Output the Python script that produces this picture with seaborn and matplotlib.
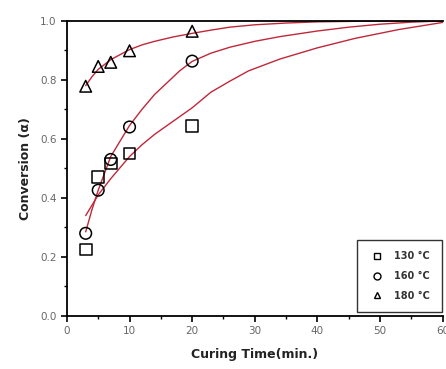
import matplotlib
matplotlib.use("Agg")
import matplotlib.pyplot as plt
import seaborn as sns
import pandas as pd
from matplotlib.ticker import MultipleLocator
from matplotlib.lines import Line2D

# measured points
t_pts = [3, 5, 7, 10, 20]
y130 = [0.225, 0.47, 0.516, 0.55, 0.643]
y160 = [0.28, 0.426, 0.53, 0.64, 0.863]
y180 = [0.778, 0.845, 0.859, 0.898, 0.964]

# fitted curves
c130_x = [3, 5, 7, 10, 12, 14, 16, 18, 20, 23, 26, 29, 34, 40, 46, 53, 60]
c130_y = [0.34, 0.41, 0.465, 0.54, 0.58, 0.615, 0.645, 0.675, 0.705, 0.758, 0.795, 0.83,
          0.87, 0.908, 0.94, 0.97, 0.994]
c160_x = [3, 4, 5, 7, 10, 12, 14, 16, 18, 20, 23, 26, 30, 34, 40, 45, 50, 55, 60]
c160_y = [0.285, 0.36, 0.426, 0.54, 0.645, 0.70, 0.75, 0.79, 0.83, 0.862, 0.89, 0.91,
          0.93, 0.946, 0.965, 0.978, 0.988, 0.995, 0.999]
c180_x = [3, 4, 5, 7, 10, 12, 14, 17, 20, 23, 26, 30, 35, 40, 50, 60]
c180_y = [0.78, 0.81, 0.835, 0.868, 0.902, 0.918, 0.93, 0.945, 0.957, 0.968, 0.978, 0.986,
          0.992, 0.996, 0.999, 1.0]

labels = ["130 °C", "160 °C", "180 °C"]
markers = ["s", "o", "^"]

sns.set_style("ticks")
plt.rcParams["font.family"] = ["DejaVu Sans"]

fig = plt.figure(figsize=(4.46, 3.69), dpi=100)
ax = fig.add_axes([0.150, 0.1436, 0.8426, 0.8004])

curve_color = "#c0283a"
for cx, cy in [(c130_x, c130_y), (c160_x, c160_y), (c180_x, c180_y)]:
    sns.lineplot(x=cx, y=cy, ax=ax, color=curve_color, linewidth=1.0, zorder=2)

pts = pd.DataFrame({
    "t": t_pts * 3,
    "a": y130 + y160 + y180,
    "T": [labels[0]] * 5 + [labels[1]] * 5 + [labels[2]] * 5,
})
sns.scatterplot(data=pts, x="t", y="a", style="T", markers=dict(zip(labels, markers)),
                s=70, facecolor="none", edgecolor="black", linewidth=1.1, ax=ax,
                legend=False, zorder=3)

ax.set_xlim(0, 60)
ax.set_ylim(0, 1.0)
ax.xaxis.set_major_locator(MultipleLocator(10))
ax.xaxis.set_minor_locator(MultipleLocator(5))
ax.yaxis.set_major_locator(MultipleLocator(0.2))
ax.yaxis.set_minor_locator(MultipleLocator(0.1))
ax.yaxis.set_major_formatter(matplotlib.ticker.FormatStrFormatter("%.1f"))
ax.tick_params(which="major", direction="out", length=4, width=1.2, labelsize=7.5,
               labelcolor="#666666", color="black")
ax.tick_params(which="minor", direction="out", length=2.5, width=1.0, color="black")
for s in ["left", "bottom", "top"]:
    ax.spines[s].set_linewidth(1.3)
    ax.spines[s].set_color("black")
ax.spines["right"].set_visible(False)

ax.set_xlabel("Curing Time(min.)", fontsize=9, fontweight="bold", color="#222222", labelpad=8)
ax.set_ylabel("Conversion (α)", fontsize=9, fontweight="bold", color="#222222", labelpad=6)

handles = [Line2D([], [], linestyle="none", marker=m, markersize=5, markerfacecolor="none",
                  markeredgecolor="black", markeredgewidth=1.0) for m in markers]
leg = ax.legend(handles, labels, loc="lower right", frameon=True, fancybox=False,
                edgecolor="black", prop={"weight": "bold", "size": 7},
                borderpad=1.2, labelspacing=1.0, handletextpad=1.0, handlelength=1.6,
                borderaxespad=0.0, bbox_to_anchor=(0.997, 0.012))
leg.get_frame().set_linewidth(1.0)
for t in leg.get_texts():
    t.set_color("#333333")

fig.savefig("out.png", dpi=100)
